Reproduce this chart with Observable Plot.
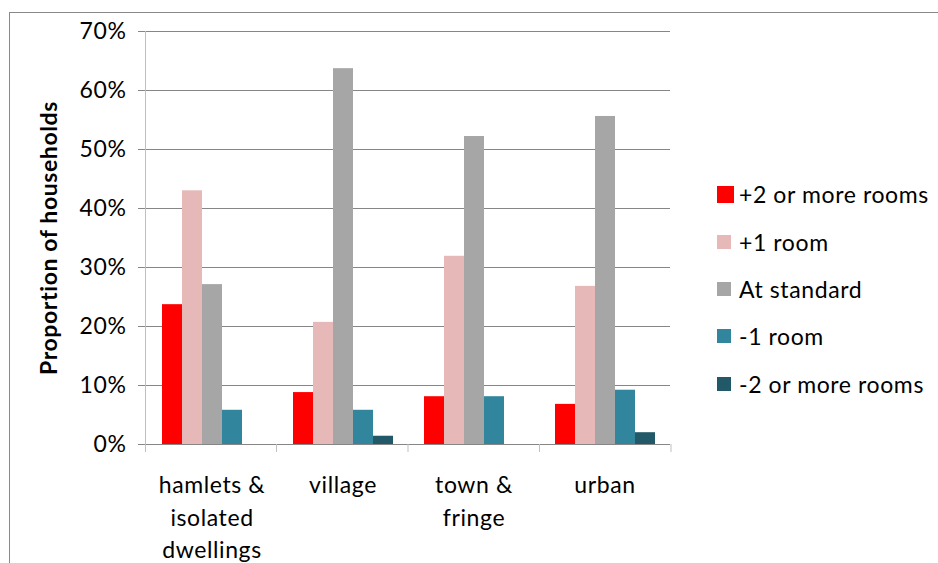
<!DOCTYPE html>
<html>
<head>
<meta charset="utf-8">
<script src="https://cdn.jsdelivr.net/npm/d3@7"></script>
<script src="https://cdn.jsdelivr.net/npm/@observablehq/plot@0.6"></script>
<style>
  body { margin: 0; background: #fff; }
  #wrap { position: relative; width: 938px; height: 563px; overflow: hidden; font-family: Lato, "Open Sans", sans-serif; }
  #border { position: absolute; left: 9px; top: 12px; width: 1200px; height: 1200px; border-left: 1px solid #898989; border-top: 1px solid #898989; }
  #chart { position: absolute; left: 0; top: 0; }
  #legend { position: absolute; left: 717px; top: 0; }
  .row { position: absolute; left: 0; white-space: nowrap; font-size: 23px; letter-spacing: 0.6px; color: #000; display: flex; align-items: center; height: 26px; }
  .sw { display: inline-block; }
  .lbl { position: absolute; left: 22px; }
</style>
</head>
<body>
<div id="wrap"><div id="border"></div><div id="chart"></div><div id="legend"></div></div>
<script>
// Categories of settlement and their wrapped axis labels
const categories = ["hamlets & isolated dwellings", "village", "town & fringe", "urban"];
const categoryLabels = ["hamlets &\nisolated\ndwellings", "village", "town &\nfringe", "urban"];

// Occupancy rating series (bedrooms relative to the standard)
const series = ["+2 or more rooms", "+1 room", "At standard", "-1 room", "-2 or more rooms"];
const seriesColors = ["#FF0000", "#E6B9B8", "#A6A6A6", "#31859C", "#215968"];

// Proportion of households, in percent, per category
const plus2Rooms = [23.7, 8.8, 8.1, 6.8];
const plus1Room = [43.0, 20.7, 31.9, 26.8];
const atStandard = [27.1, 63.7, 52.2, 55.6];
const minus1Room = [5.8, 5.8, 8.1, 9.2];
const minus2Rooms = [0, 1.4, 0, 2.0];

const yTicks = [0, 10, 20, 30, 40, 50, 60, 70];

const seriesValues = [plus2Rooms, plus1Room, atStandard, minus1Room, minus2Rooms];
const rows = categories.flatMap((c, i) =>
  series.map((s, j) => ({category: c, series: s, value: seriesValues[j][i]}))
);
const labelOf = new Map(categories.map((c, i) => [c, categoryLabels[i]]));

const fontFamily = "Lato, 'Open Sans', sans-serif";

const chart = Plot.plot({
  width: 938,
  height: 563,
  marginLeft: 145,
  marginRight: 267,
  marginTop: 31,
  marginBottom: 119,
  style: {fontFamily, fontSize: "23px", color: "#000", background: "transparent", letterSpacing: "0.6px"},
  fx: {domain: categories, paddingInner: 0, paddingOuter: 0, label: null},
  x: {domain: series, paddingInner: 0, paddingOuter: 0.7, axis: null},
  y: {domain: [0, 70], label: null},
  color: {domain: series, range: seriesColors},
  marks: [
    Plot.gridY(yTicks, {stroke: "#868686", strokeOpacity: 1}),
    Plot.barY(rows, {fx: "category", x: "series", y: "value", fill: "series"}),
    Plot.axisY(yTicks, {
      tickSize: 8, tickPadding: 12, stroke: "#868686",
      tickFormat: d => d + "%", fontSize: 23,
      label: "Proportion of households", labelAnchor: "center", labelArrow: "none", labelOffset: 106
    }),
    Plot.axisFx({
      anchor: "bottom", tickSize: 0, tickPadding: 26, fontSize: 23,
      lineHeight: 1.4, lineAnchor: "top", tickFormat: d => labelOf.get(d)
    })
  ]
});
document.getElementById("chart").appendChild(chart);

// Axis line and category boundary ticks, placed from the plot's own scales
const svg = d3.select(chart);
const fx = chart.scale("fx");
const y = chart.scale("y");
const [fx0, fx1] = fx.range;
const n = fx.domain.length;
const step = (fx1 - fx0) / n;
const [yBottom, yTop] = y.range;
svg.append("line")
  .attr("x1", fx0 + 0.5).attr("x2", fx0 + 0.5)
  .attr("y1", yTop).attr("y2", yBottom + 8)
  .attr("stroke", "#BFBFBF");
for (let i = 1; i <= n; ++i) {
  const x = fx0 + i * step;
  svg.append("line")
    .attr("x1", x).attr("x2", x)
    .attr("y1", yBottom).attr("y2", yBottom + 8)
    .attr("stroke", "#BFBFBF");
}
svg.selectAll("[aria-label='y-axis label']").attr("font-weight", "bold");

// Legend to the right of the plot, coloured from the color scale
const color = chart.scale("color");
const legend = d3.select("#legend");
const rowCenters = [194, 242, 289, 336, 384];
color.domain.forEach((s, i) => {
  const size = i === 0 ? 17 : 14;
  const row = legend.append("div").attr("class", "row").style("top", (rowCenters[i] - 13) + "px");
  row.append("span").attr("class", "sw")
    .style("width", size + "px").style("height", size + "px")
    .style("background", color.range[i]);
  row.append("span").attr("class", "lbl").text(s);
});
</script>
</body>
</html>
